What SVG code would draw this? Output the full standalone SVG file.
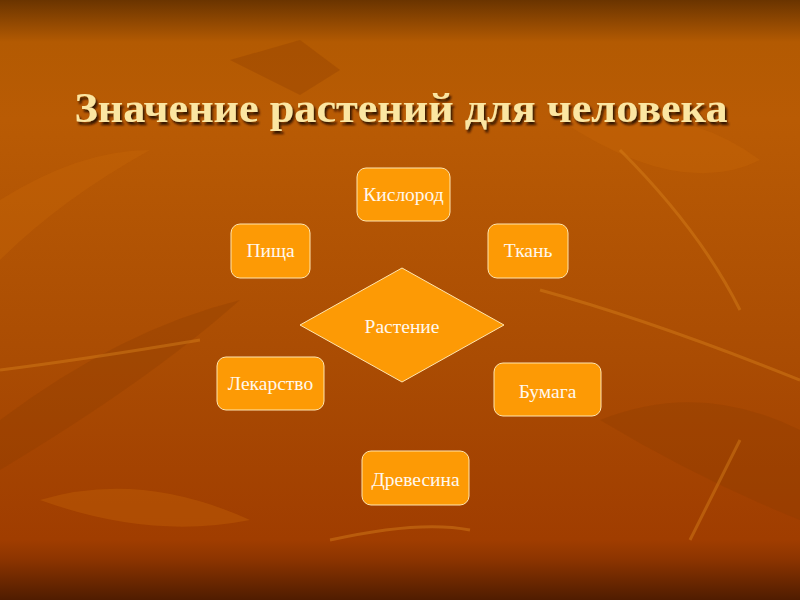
<svg xmlns="http://www.w3.org/2000/svg" width="800" height="600" viewBox="0 0 800 600">
<defs>
<linearGradient id="bg" x1="0" y1="0" x2="0" y2="1">
<stop offset="0" stop-color="#6a3400"/>
<stop offset="0.07" stop-color="#b35a02"/>
<stop offset="0.2" stop-color="#b95b04"/>
<stop offset="0.6" stop-color="#aa4c03"/>
<stop offset="0.9" stop-color="#a03d00"/>
<stop offset="0.93" stop-color="#8e3500"/>
<stop offset="1" stop-color="#4f1c00"/>
</linearGradient>
<filter id="sh" x="-5%" y="-20%" width="110%" height="140%">
<feDropShadow dx="2" dy="3" stdDeviation="1" flood-color="#2a1000" flood-opacity="0.9"/>
</filter>
<style>
.box{fill:#fd9a05;stroke:#ffe6b0;stroke-width:1}
.lbl{font-family:"Liberation Serif","Times New Roman",serif;font-size:19.5px;fill:#fff8ee;text-anchor:middle}
.leaf{fill:#c8680a;opacity:0.35}
.leafd{fill:#8a3a00;opacity:0.3}
.vein{stroke:#d8801a;stroke-width:3;fill:none;opacity:0.45}
</style>
</defs>
<rect width="800" height="600" fill="url(#bg)"/>
<g id="background-leaves">
<path class="leafd" d="M230 60 L300 40 L340 70 L300 95 Z"/>
<path class="leaf" d="M150 150 Q60 200 0 260 L0 200 Q80 150 150 150 Z"/>
<path class="leafd" d="M0 420 Q120 330 240 300 Q150 380 0 470 Z"/>
<path class="leaf" d="M560 120 Q680 100 760 160 Q680 200 560 120 Z"/>
<path class="leafd" d="M600 420 Q700 380 800 430 L800 520 Q700 480 600 420 Z"/>
<path class="leaf" d="M40 500 Q140 470 250 520 Q150 540 40 500 Z"/>
<path class="vein" d="M620 150 Q700 230 740 310"/>
<path class="vein" d="M540 290 Q650 320 800 380"/>
<path class="vein" d="M330 540 Q420 520 470 530"/>
<path class="vein" d="M690 540 Q720 480 740 440"/>
<path class="vein" d="M0 370 Q80 360 200 340"/>
</g>
<g id="title">
<text x="401" y="122" text-anchor="middle" font-family="Liberation Serif, 'Times New Roman', serif" font-size="42" font-weight="bold" fill="#fbe6a2" filter="url(#sh)" textLength="653" lengthAdjust="spacingAndGlyphs">Значение растений для человека</text>
</g>
<g id="connectors"></g>
<g id="node-rastenie">
<polygon class="box" points="402,268 504,325 402,382 300,325"/>
<text class="lbl" x="402" y="333">Растение</text>
</g>
<g id="node-kislorod">
<rect class="box" x="357" y="168" width="93" height="53" rx="9"/>
<text class="lbl" x="403.5" y="201">Кислород</text>
</g>
<g id="node-pishcha">
<rect class="box" x="231" y="224" width="79" height="54" rx="9"/>
<text class="lbl" x="270.5" y="257">Пища</text>
</g>
<g id="node-tkan">
<rect class="box" x="488" y="224" width="80" height="54" rx="9"/>
<text class="lbl" x="528" y="257">Ткань</text>
</g>
<g id="node-lekarstvo">
<rect class="box" x="217" y="357" width="107" height="53" rx="9"/>
<text class="lbl" x="270.5" y="390">Лекарство</text>
</g>
<g id="node-bumaga">
<rect class="box" x="494" y="363" width="107" height="53" rx="9"/>
<text class="lbl" x="547.5" y="398">Бумага</text>
</g>
<g id="node-drevesina">
<rect class="box" x="362" y="451" width="107" height="54" rx="9"/>
<text class="lbl" x="415.5" y="486">Древесина</text>
</g>
</svg>
